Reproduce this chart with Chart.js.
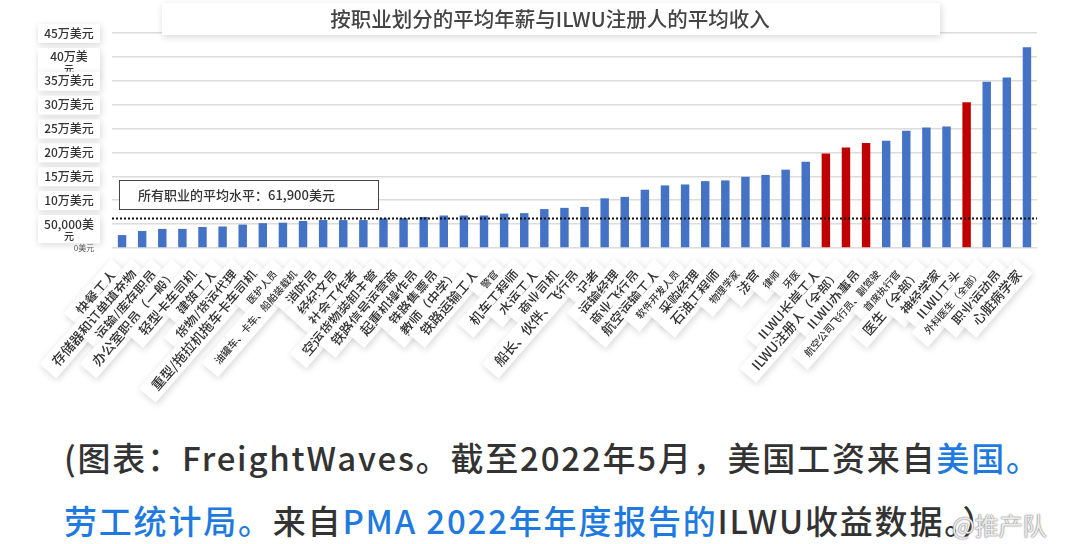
<!DOCTYPE html>
<html>
<head>
<meta charset="utf-8">
<script src="https://cdn.jsdelivr.net/npm/chart.js@4"></script>
<style>
  body { margin: 0; background: #fff; width: 1080px; height: 544px; overflow: hidden; position: relative;
         font-family: "Noto Sans CJK SC", "Noto Sans", sans-serif; }
  #wrap { position: absolute; left: 0; top: 0; width: 1080px; height: 420px; }
  .cap { position: absolute; left: 64px; font-size: 33px; letter-spacing: 1.8px; color: #333; white-space: nowrap; font-weight: 500; line-height: 1; }
  .blue { color: #1f7ae0; }
  #wm { position: absolute; left: 952px; top: 507px; font-size: 24px; color: rgba(255,255,255,0.85);
        text-shadow: 0 0 2px #888, 0 0 1px #666; white-space: nowrap; }
</style>
</head>
<body>
<div id="wrap"><canvas id="salaryChart" width="1080" height="420"></canvas></div>
<div class="cap" style="top:441px">(图表：FreightWaves。截至2022年5月，美国工资来自<span class="blue">美国。</span></div>
<div class="cap" style="top:504px"><span class="blue">劳工统计局。</span>来自<span class="blue">PMA 2022年年度报告的</span>ILWU收益数据。）</div>
<div id="wm">@推产队</div>
<script>
// Data
const occupations = [
  '快餐工人', '存储器和订单填充物', '运输/库存职员', '办公室职员（一般）', '轻型卡车司机',
  '建筑工人', '货物/货运代理', '重型/拖拉机拖车卡车司机', '医护人员', '油罐车、卡车、船舶装载机',
  '消防员', '经纪文员', '社会工作者', '空运货物装卸主管', '铁路信号运营商',
  '起重机操作员', '铁路售票员', '教师（中学）', '铁路运输工人', '警官',
  '机车工程师', '水运工人', '商业司机', '船长、伙伴、飞行员', '记者',
  '运输经理', '商业飞行员', '航空运输工人', '软件开发人员', '采购经理',
  '石油工程师', '物理学家', '法官', '律师', '牙医',
  'ILWU长岸工人', 'ILWU注册人（全部）', 'ILWU办事员', '航空公司飞行员、副驾驶', '首席执行官',
  '医生（全部）', '神经学家', 'ILWU工头', '外科医生（全部）', '职业运动员',
  '心脏病学家'
];
const salaries = [
  27000, 35500, 40000, 40000, 44000,
  45000, 49000, 52000, 53000, 56500,
  58500, 58500, 58500, 62000, 62500,
  65000, 68000, 68000, 68000, 72000,
  73000, 81500, 84000, 86000, 104000,
  107000, 122000, 131000, 133000, 140000,
  141500, 149000, 153000, 164000, 180500,
  198000, 210500, 220000, 224500, 245500,
  252000, 254500, 305000, 348000, 357000,
  420000
];
const yTickLabels = ['0美元', ['50,000美', '元'], '10万美元', '15万美元', '20万美元',
  '25万美元', '30万美元', '35万美元', ['40万美', '元'], '45万美元'];
const averageSalary = 61900;
const averageText = '所有职业的平均水平：61,900美元';
const chartTitle = '按职业划分的平均年薪与ILWU注册人的平均收入';

// labels that are printed smaller in the original
const smallLabels = [8, 9, 19, 28, 31, 33, 34, 38, 39, 43];

const BLUE = '#4472c4', RED = '#c00000';
const FONT = '"Noto Sans CJK SC", "Noto Sans", sans-serif';

function box(ctx, x, y, w, h) {
  ctx.save();
  ctx.shadowColor = 'rgba(0,0,0,0.16)';
  ctx.shadowBlur = 7;
  ctx.shadowOffsetX = 1;
  ctx.shadowOffsetY = 2;
  ctx.fillStyle = '#fff';
  ctx.fillRect(x, y, w, h);
  ctx.restore();
}

const decor = {
  id: 'decor',
  afterDatasetsDraw(chart) {
    const {ctx, chartArea, scales: {y}} = chart;
    // dotted average line
    const ay = y.getPixelForValue(averageSalary);
    ctx.save();
    ctx.strokeStyle = '#111';
    ctx.lineWidth = 2;
    ctx.setLineDash([2, 2]);
    ctx.beginPath();
    ctx.moveTo(chartArea.left, ay);
    ctx.lineTo(chartArea.right, ay);
    ctx.stroke();
    ctx.restore();
  },
  afterDraw(chart) {
    const {ctx, chartArea, scales: {x, y}} = chart;

    // y tick labels in boxes, top to bottom
    ctx.save();
    for (let i = yTickLabels.length - 1; i >= 0; i--) {
      const lab = yTickLabels[i];
      const py = y.getPixelForValue(i * 50000);
      ctx.textAlign = 'center';
      ctx.textBaseline = 'middle';
      if (i === 0) {
        ctx.font = '8px ' + FONT;
        ctx.fillStyle = '#555';
        ctx.fillText(lab, 84, py);
        continue;
      }
      const lines = Array.isArray(lab) ? lab : [lab];
      const h = lines.length > 1 ? 28 : 19;
      box(ctx, 38, py - 9, 62, h);
      ctx.fillStyle = '#333';
      lines.forEach((t, k) => {
        ctx.font = (k === 0 ? '500 12px ' : '500 10px ') + FONT;
        ctx.fillText(t, 69, py + k * 12);
      });
    }
    ctx.restore();

    // rotated category labels in boxes
    occupations.forEach((lab, i) => {
      const px = x.getPixelForValue(i);
      const size = smallLabels.includes(i) ? 10 : 13.5;
      ctx.save();
      ctx.translate(px - 8, chartArea.bottom + 24);
      ctx.rotate(-49 * Math.PI / 180);
      ctx.font = '500 ' + size + 'px ' + FONT;
      const w = ctx.measureText(lab).width;
      box(ctx, -w - 10, -11, w + 18, 22);
      ctx.fillStyle = '#333';
      ctx.textAlign = 'right';
      ctx.textBaseline = 'middle';
      ctx.fillText(lab, 0, 0);
      ctx.restore();
    });

    // average annotation
    ctx.save();
    ctx.fillStyle = '#fff';
    ctx.fillRect(119, 180, 259, 29);
    ctx.strokeStyle = '#444';
    ctx.lineWidth = 1;
    ctx.strokeRect(119.5, 180.5, 259, 29);
    ctx.font = '500 13px ' + FONT;
    ctx.fillStyle = '#333';
    ctx.textAlign = 'left';
    ctx.textBaseline = 'middle';
    ctx.fillText(averageText, 138, 195);
    ctx.restore();

    // title box
    ctx.save();
    box(ctx, 162, 3, 778, 32);
    ctx.font = '500 20.5px ' + FONT;
    ctx.fillStyle = '#444';
    ctx.textAlign = 'center';
    ctx.textBaseline = 'middle';
    ctx.fillText(chartTitle, 550, 19);
    ctx.restore();
  }
};

const ctx = document.getElementById('salaryChart').getContext('2d');
new Chart(ctx, {
  type: 'bar',
  data: {
    labels: occupations,
    datasets: [{
      data: salaries,
      backgroundColor: occupations.map(o => o.startsWith('ILWU') ? RED : BLUE),
      categoryPercentage: 1,
      barPercentage: 0.42
    }]
  },
  options: {
    responsive: false,
    animation: false,
    layout: { padding: { left: 112, right: 43, top: 33, bottom: 172 } },
    plugins: { legend: { display: false }, tooltip: { enabled: false } },
    scales: {
      x: {
        ticks: { display: false },
        grid: { display: false, drawTicks: false },
        border: { display: false }
      },
      y: {
        min: 0,
        max: 450000,
        ticks: { display: false, stepSize: 50000 },
        grid: { color: '#dcdcdc', lineWidth: 1.5, drawTicks: false },
        border: { display: false }
      }
    }
  },
  plugins: [decor]
});
</script>
</body>
</html>
